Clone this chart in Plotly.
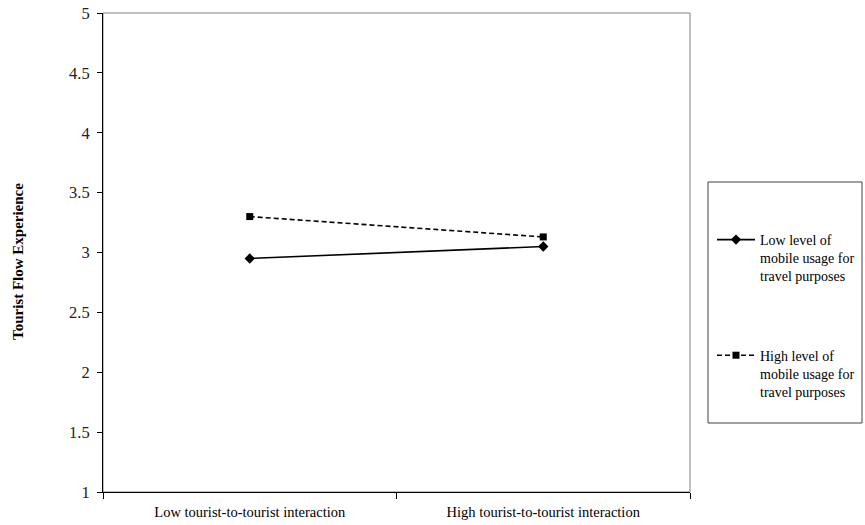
import plotly.graph_objects as go

categories = ["Low tourist-to-tourist interaction", "High tourist-to-tourist interaction"]
low_usage = [2.95, 3.05]
high_usage = [3.30, 3.13]
series_names = ["Low level of<br>mobile usage for<br>travel purposes",
                "High level of<br>mobile usage for<br>travel purposes"]
y_ticks = [1, 1.5, 2, 2.5, 3, 3.5, 4, 4.5, 5]
y_labels = ["1", "1.5", "2", "2.5", "3", "3.5", "4", "4.5", "5"]
y_title = "Tourist Flow Experience"

FONT = "Liberation Serif, Times New Roman, serif"
L, R, T, B = 103, 175, 13, 33
W, H = 865, 525
pw, ph = W - L - R, H - T - B

def px_x(x):
    return (x - L) / pw

def px_y(y):
    return (H - B - y) / ph

fig = go.Figure()
fig.add_trace(go.Scatter(
    x=categories, y=low_usage, name=series_names[0], legendgroup="a",
    mode="lines+markers",
    line=dict(color="black", width=1.6),
    marker=dict(symbol="diamond", size=8, color="black"),
))
fig.add_trace(go.Scatter(
    x=categories, y=high_usage, name=series_names[1], legendgroup="b",
    mode="lines+markers",
    line=dict(color="black", width=1.6, dash="5px,3px"),
    marker=dict(symbol="square", size=7, color="black"),
))

# plot frame
fig.add_shape(type="rect", xref="paper", yref="paper", x0=0, x1=1, y0=0, y1=1,
              line=dict(color="#808080", width=1), layer="below")
# legend box
fig.add_shape(type="rect", xref="paper", yref="paper",
              x0=px_x(708), x1=px_x(862), y0=px_y(423), y1=px_y(182),
              line=dict(color="#404040", width=1))

# y-axis title
fig.add_annotation(
    text="<b>" + y_title + "</b>", textangle=-90,
    xref="paper", yref="paper", x=px_x(18), y=px_y(262),
    xanchor="center", yanchor="middle", showarrow=False,
    font=dict(family=FONT, size=15, color="black"),
)

fig.update_layout(
    width=W, height=H,
    margin=dict(l=L, r=R, t=T, b=B, autoexpand=False),
    paper_bgcolor="white", plot_bgcolor="white",
    font=dict(family=FONT, color="black"),
    showlegend=True,
    legend=dict(
        x=px_x(712), y=px_y(224), xanchor="left", yanchor="top",
        font=dict(family=FONT, size=14, color="black"),
        valign="top", tracegroupgap=58, itemwidth=38,
        bgcolor="rgba(0,0,0,0)", borderwidth=0,
    ),
    xaxis=dict(
        type="category", range=[-0.5, 1.5],
        tickson="boundaries", ticks="outside", ticklen=6, tickcolor="black",
        showline=True, linecolor="black", linewidth=1,
        showgrid=False, zeroline=False, ticklabelstandoff=7,
        tickfont=dict(family=FONT, size=14.5, color="black"),
    ),
    yaxis=dict(
        range=[1, 5], tickvals=y_ticks, ticktext=y_labels,
        ticks="outside", ticklen=5, tickcolor="black",
        showline=True, linecolor="black", linewidth=1,
        showgrid=False, zeroline=False, ticklabelstandoff=4,
        tickfont=dict(family=FONT, size=16.5, color="#222222"),
    ),
)

fig.write_html("out.html", config={"displayModeBar": False})

# remove the browser's default body margin so the figure sits at (0, 0)
with open("out.html", "r", encoding="utf-8") as f:
    html = f.read()
html = html.replace("<head>", "<head><style>html,body{margin:0;padding:0;}</style>", 1)
with open("out.html", "w", encoding="utf-8") as f:
    f.write(html)
